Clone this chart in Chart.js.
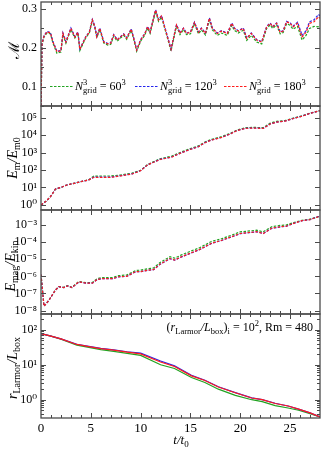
<!DOCTYPE html>
<html>
<head>
<meta charset="utf-8">
<script src="https://cdn.jsdelivr.net/npm/chart.js@4.4.1/dist/chart.umd.min.js"></script>
<style>
  body { margin: 0; background: #fff; }
  #wrap { position: relative; width: 322px; height: 450px; }
  #wrap canvas { position: absolute; left: 0; top: 0; }
</style>
</head>
<body>
<div id="wrap">
  <canvas id="c1" width="322" height="450"></canvas>
  <canvas id="c2" width="322" height="450"></canvas>
  <canvas id="c3" width="322" height="450"></canvas>
  <canvas id="c4" width="322" height="450"></canvas>
</div>
<script>
// grid resolutions of the three runs
const gridSizes = ['60', '120', '180'];
const xTicks = [0, 5, 10, 15, 20, 25];

// Mach number
const machT = [0, 0.1, 0.3, 0.6, 0.95, 1.2, 1.6, 2.0, 2.2, 2.5,
  3.0, 3.4, 3.7, 3.9, 4.5, 4.85, 5.15, 5.4, 5.6, 5.9,
  6.3, 6.7, 7.0, 7.3, 7.65, 8.0, 8.3, 8.6, 9.05, 9.3,
  9.6, 10.0, 10.4, 10.7, 10.95, 11.5, 11.8, 12.1, 12.45, 13.05,
  13.6, 13.95, 14.3, 14.6, 15.0, 15.4, 15.8, 16.1, 16.5, 16.9,
  17.2, 17.7, 18.1, 18.7, 19.15, 19.4, 19.8, 20.3, 20.65, 21.1,
  21.65, 22.15, 22.65, 23.0, 23.25, 23.65, 24.0, 24.3, 24.65, 25.0,
  25.3, 25.75, 26.2, 26.6, 26.95, 27.4, 27.85, 28.0];
const machGreen = [0.04, 0.208, 0.228, 0.238, 0.236, 0.212, 0.186, 0.189, 0.234, 0.212,
  0.247, 0.225, 0.238, 0.193, 0.226, 0.238, 0.27, 0.252, 0.226, 0.247,
  0.212, 0.207, 0.209, 0.23, 0.217, 0.226, 0.232, 0.222, 0.245, 0.222,
  0.191, 0.217, 0.232, 0.251, 0.237, 0.294, 0.268, 0.279, 0.247, 0.192,
  0.256, 0.234, 0.247, 0.234, 0.236, 0.262, 0.236, 0.246, 0.233, 0.272,
  0.246, 0.232, 0.238, 0.232, 0.258, 0.245, 0.238, 0.245, 0.219, 0.232,
  0.215, 0.21, 0.25, 0.259, 0.25, 0.259, 0.236, 0.239, 0.262, 0.258,
  0.248, 0.255, 0.22, 0.232, 0.25, 0.255, 0.254, 0.25];
const machBlue = [0.04, 0.211, 0.231, 0.242, 0.239, 0.216, 0.191, 0.193, 0.238, 0.216,
  0.251, 0.229, 0.241, 0.197, 0.229, 0.241, 0.273, 0.256, 0.229, 0.251,
  0.216, 0.211, 0.213, 0.234, 0.221, 0.229, 0.236, 0.226, 0.249, 0.226,
  0.195, 0.221, 0.236, 0.255, 0.241, 0.298, 0.273, 0.283, 0.251, 0.197,
  0.26, 0.238, 0.251, 0.238, 0.241, 0.266, 0.241, 0.251, 0.238, 0.277,
  0.251, 0.238, 0.244, 0.238, 0.264, 0.251, 0.244, 0.251, 0.225, 0.238,
  0.221, 0.216, 0.255, 0.264, 0.255, 0.264, 0.241, 0.244, 0.268, 0.264,
  0.256, 0.266, 0.232, 0.244, 0.267, 0.272, 0.286, 0.282];
const machRed = [0.04, 0.21, 0.23, 0.241, 0.238, 0.215, 0.19, 0.192, 0.237, 0.215,
  0.25, 0.228, 0.24, 0.196, 0.228, 0.24, 0.272, 0.255, 0.228, 0.25,
  0.215, 0.21, 0.212, 0.233, 0.22, 0.228, 0.235, 0.225, 0.248, 0.225,
  0.194, 0.22, 0.235, 0.254, 0.24, 0.297, 0.272, 0.282, 0.25, 0.196,
  0.259, 0.237, 0.25, 0.237, 0.24, 0.265, 0.24, 0.25, 0.237, 0.276,
  0.25, 0.237, 0.243, 0.237, 0.263, 0.25, 0.243, 0.25, 0.224, 0.237,
  0.22, 0.215, 0.254, 0.263, 0.254, 0.263, 0.24, 0.243, 0.267, 0.263,
  0.254, 0.263, 0.228, 0.24, 0.263, 0.267, 0.28, 0.276];
const machTicks = [0.1, 0.2, 0.3];
const machMinor = [0.05, 0.15, 0.25];

// magnetic energy E_m / E_m0
const emT = [0, 0.5, 0.95, 1.45, 2.0, 2.6, 3.3, 4.1, 4.8, 5.3,
  6.0, 7.0, 8.0, 9.15, 10.0, 10.7, 11.95, 13.1, 13.95, 14.8,
  15.8, 16.45, 17.1, 18.15, 19.0, 19.65, 20.5, 21.3, 22.3, 23.0,
  23.65, 24.5, 25.35, 26.2, 27.0, 27.85, 28.0];
const emGreen = [1.0, 1.6, 2.95, 8, 10, 13.8, 17, 22, 28, 44,
  45, 45, 52, 66, 96, 205, 440, 610, 1000, 1550,
  2400, 4000, 5600, 8200, 12600, 19000, 26500, 27500, 26500, 48000,
  61000, 68000, 94000, 126000, 178000, 236000, 250000];
const emBlue = [1.0, 1.6, 2.95, 8, 10, 13.8, 17, 22, 27, 39,
  39, 39, 47, 60, 92, 197, 405, 550, 900, 1400,
  2170, 3700, 5200, 7500, 11700, 18000, 24300, 25400, 24300, 43000,
  55500, 63500, 90000, 121000, 175000, 236000, 252000];
const emRed = [1.0, 1.6, 2.95, 8, 10, 13.8, 17, 22, 27, 38,
  38, 38, 46, 59, 91, 195, 400, 540, 890, 1380,
  2140, 3630, 5130, 7400, 11500, 17800, 24000, 25100, 24000, 42700,
  55000, 63000, 89000, 120000, 174000, 234000, 250000];
const emTicks = [1, 10, 100, 1e3, 1e4, 1e5];

// E_mag / E_kin
const ratioT = [0, 0.3, 0.8, 1.45, 1.8, 2.3, 2.65, 3.1, 3.8, 4.5,
  5.15, 5.65, 6.15, 7.2, 7.8, 8.6, 9.5, 10.0, 10.7, 11.3,
  11.95, 12.95, 13.4, 14.1, 15.1, 15.95, 17.1, 18.15, 19.15, 20.0,
  20.6, 21.65, 22.3, 23.15, 24.0, 24.6, 25.35, 26.2, 27.0, 27.85, 28.0];
const ratioGreen = [1.26e-6, 1.8e-8, 4e-8, 1.6e-7, 2.5e-7, 2.3e-7, 2.9e-7, 2.3e-7, 5e-7, 4.3e-7,
  4.4e-7, 7.5e-7, 8.5e-7, 8.6e-7, 1.1e-6, 1.2e-6, 2.2e-6, 2.3e-6, 2.8e-6, 3.1e-6,
  6.4e-6, 1.4e-5, 1.15e-5, 1.8e-5, 3.1e-5, 4.8e-5, 1.1e-4, 1.6e-4, 2.6e-4, 4e-4,
  4.3e-4, 5e-4, 4e-4, 8e-4, 9.5e-4, 1e-3, 1.4e-3, 1.9e-3, 2.2e-3, 3.1e-3, 3.3e-3];
const ratioBlue = [1.26e-6, 1.8e-8, 4e-8, 1.6e-7, 2.5e-7, 2.2e-7, 2.8e-7, 2.2e-7, 4.7e-7, 4e-7,
  4e-7, 6.5e-7, 7.3e-7, 7.3e-7, 9.4e-7, 1e-6, 1.85e-6, 1.9e-6, 2.25e-6, 2.45e-6,
  5.1e-6, 1.08e-5, 8.8e-6, 1.38e-5, 2.35e-5, 3.75e-5, 8.4e-5, 1.28e-4, 2.05e-4, 3.15e-4,
  3.45e-4, 4.05e-4, 3.2e-4, 6.4e-4, 7.8e-4, 8.4e-4, 1.25e-3, 1.8e-3, 2.1e-3, 3.15e-3, 3.4e-3];
const ratioRed = [1.26e-6, 1.8e-8, 4e-8, 1.6e-7, 2.5e-7, 2.2e-7, 2.8e-7, 2.2e-7, 4.8e-7, 4e-7,
  4e-7, 6.6e-7, 7.4e-7, 7.4e-7, 9.5e-7, 1e-6, 1.9e-6, 1.9e-6, 2.3e-6, 2.5e-6,
  5.2e-6, 1.1e-5, 8.9e-6, 1.4e-5, 2.4e-5, 3.8e-5, 8.5e-5, 1.3e-4, 2.1e-4, 3.2e-4,
  3.5e-4, 4.1e-4, 3.2e-4, 6.5e-4, 7.9e-4, 8.5e-4, 1.26e-3, 1.8e-3, 2.1e-3, 3.1e-3, 3.3e-3];
const ratioTicks = [1e-8, 1e-7, 1e-6, 1e-5, 1e-4, 1e-3];

// r_Larmor / L_box
const larmorT = [0, 1.0, 2.0, 3.6, 4.8, 6.0, 7.3, 8.65, 10.0, 12.0,
  13.4, 15.1, 16.45, 17.8, 19.5, 21.15, 22.2, 23.5, 24.8, 25.85, 27.0, 28.0];
const larmorGreen = [78, 66, 54, 36.5, 31.5, 27, 24, 21, 18.5, 10,
  7.8, 4.3, 3.1, 2.0, 1.33, 1.0, 0.88, 0.68, 0.58, 0.5, 0.4, 0.32];
const larmorBlue = [78, 66, 55, 38.5, 33.5, 29.5, 26.5, 23.5, 21.5, 12.8,
  9.3, 5.0, 3.6, 2.35, 1.6, 1.13, 1.0, 0.79, 0.66, 0.54, 0.42, 0.32];
const larmorRed = [78, 66, 55, 38, 33, 29, 26, 23, 20.4, 12,
  8.9, 4.8, 3.55, 2.3, 1.58, 1.12, 1.0, 0.78, 0.66, 0.54, 0.42, 0.32];
const larmorTicks = [1, 10, 100];
const larmorMinor = [0.4, 0.5, 0.6, 0.7, 0.8, 0.9, 2, 3, 4, 5, 6, 7, 8, 9,
  20, 30, 40, 50, 60, 70, 80, 90, 200];

const FONT = "'Liberation Serif', 'DejaVu Serif', serif";
const colors = ['#22a322', '#2424ee', '#ff1c1c'];
const FRAME = '#4a4a4a';
const SUP = { '0': '⁰', '1': '¹', '2': '²', '3': '³', '4': '⁴', '5': '⁵', '6': '⁶', '7': '⁷', '8': '⁸', '9': '⁹', '-': '⁻' };

function powLabel(v) {
  const e = String(Math.round(Math.log10(v)));
  return '10' + e.split('').map(c => SUP[c]).join('');
}

// parts: [text, italic, size, dy, noAdvance]
function richText(ctx, parts, x, y, align) {
  let w = 0;
  parts.forEach(p => {
    ctx.font = (p[1] ? 'italic ' : '') + p[2] + 'px ' + FONT;
    p.w = ctx.measureText(p[0]).width;
    if (!p[4]) w += p.w;
  });
  let cx = align === 'center' ? x - w / 2 : align === 'right' ? x - w : x;
  ctx.textAlign = 'left';
  ctx.textBaseline = 'alphabetic';
  parts.forEach(p => {
    ctx.font = (p[1] ? 'italic ' : '') + p[2] + 'px ' + FONT;
    ctx.fillText(p[0], cx, y + p[3]);
    if (!p[4]) cx += p.w;
  });
}

function framePlugin(majorY, minorY) {
  return {
    id: 'frame',
    afterDatasetsDraw(chart) {
      const ctx = chart.ctx, a = chart.chartArea;
      const xs = chart.scales.x, ys = chart.scales.y;
      ctx.save();
      ctx.strokeStyle = FRAME;
      ctx.lineWidth = 1;
      ctx.beginPath();
      for (let t = 1; t < 28; t++) {
        const px = Math.round(xs.getPixelForValue(t)) + 0.5;
        const len = t % 5 === 0 ? 5 : 3;
        ctx.moveTo(px, a.bottom); ctx.lineTo(px, a.bottom - len);
        ctx.moveTo(px, a.top); ctx.lineTo(px, a.top + len);
      }
      majorY.concat(minorY).forEach(v => {
        const py = Math.round(ys.getPixelForValue(v)) + 0.5;
        const len = majorY.includes(v) ? 5 : 3;
        ctx.moveTo(a.left, py); ctx.lineTo(a.left + len, py);
        ctx.moveTo(a.right, py); ctx.lineTo(a.right - len, py);
      });
      ctx.stroke();
      ctx.lineWidth = 1.3;
      ctx.strokeRect(a.left, a.top, a.width, a.height);
      ctx.restore();
    }
  };
}

function titlePlugin(parts, x, y) {
  return {
    id: 'ytitle',
    afterDraw(chart) {
      const ctx = chart.ctx;
      ctx.save();
      ctx.fillStyle = '#000';
      ctx.translate(x, y);
      ctx.rotate(-Math.PI / 2);
      richText(ctx, parts, 0, 0, 'center');
      ctx.restore();
    }
  };
}

const legendPlugin = {
  id: 'gridLegend',
  afterDraw(chart) {
    const ctx = chart.ctx;
    const starts = [50, 135, 224];
    ctx.save();
    gridSizes.forEach((n, i) => {
      const x0 = starts[i];
      ctx.strokeStyle = colors[i];
      ctx.lineWidth = 1.2;
      ctx.setLineDash([2.5, 1.5]);
      ctx.beginPath();
      ctx.moveTo(x0, 86.5); ctx.lineTo(x0 + 24, 86.5);
      ctx.stroke();
      ctx.setLineDash([]);
      ctx.fillStyle = '#000';
      richText(ctx, [['N', true, 12, 0], ['3', false, 8.5, -5, true], ['grid', false, 8.5, 3],
        [' = ' + n, false, 12, 0], ['3', false, 8.5, -5]], x0 + 25, 90, 'left');
    });
    ctx.restore();
  }
};

const notePlugin = {
  id: 'note',
  afterDraw(chart) {
    const ctx = chart.ctx;
    ctx.save();
    ctx.fillStyle = '#000';
    richText(ctx, [['(', false, 12, 0], ['r', true, 12, 0], ['Larmor', false, 8.5, 3], ['/', true, 12, 0],
      ['L', true, 12, 0], ['box', false, 8.5, 3], [')', false, 12, 0], ['i', false, 8.5, 3],
      [' = 10', false, 12, 0], ['2', false, 8.5, -5], [', Rm = 480', false, 12, 0]], 313, 331, 'right');
    richText(ctx, [['t', true, 13, 0], ['/', true, 13, 0], ['t', true, 13, 0], ['0', false, 9, 3]], 181, 444, 'center');
    ctx.restore();
  }
};

function makeSets(t, g, b, r, dashed) {
  return [g, b, r].map((vals, i) => ({
    label: gridSizes[i],
    data: t.map((x, k) => ({ x: x, y: vals[k] })),
    borderColor: colors[i],
    borderWidth: 1.2,
    borderDash: dashed ? [2.5, 1.5] : [],
    pointRadius: 0,
    tension: 0,
    order: 3 - i
  }));
}

function noPad(s) {
  s.paddingTop = 0; s.paddingBottom = 0; s.paddingLeft = 0; s.paddingRight = 0;
}

function makePanel(id, p) {
  const bottomAxis = !!p.showX;
  new Chart(document.getElementById(id), {
    type: 'line',
    data: { datasets: makeSets(p.t, p.g, p.b, p.r, p.dashed) },
    options: {
      responsive: false,
      animation: false,
      events: [],
      layout: { padding: { top: p.top, bottom: bottomAxis ? 450 - p.bottom - 20 : 450 - p.bottom, left: 0, right: 2 } },
      plugins: { legend: { display: false }, tooltip: { enabled: false } },
      scales: {
        x: {
          type: 'linear', min: 0, max: 28,
          display: bottomAxis,
          afterFit: s => { if (bottomAxis) s.height = 20; noPad(s); },
          afterBuildTicks: s => { s.ticks = xTicks.map(v => ({ value: v })); },
          grid: { display: false, drawTicks: false },
          border: { display: false },
          ticks: { color: '#000', font: { family: FONT, size: 13 }, padding: 3, maxRotation: 0, autoSkip: false }
        },
        y: {
          type: p.type, min: p.min, max: p.max,
          afterFit: s => { s.width = 41; noPad(s); },
          afterBuildTicks: s => { s.ticks = p.ticks.map(v => ({ value: v })); },
          grid: { display: false, drawTicks: false },
          border: { display: false },
          ticks: { color: '#000', font: { family: FONT, size: 12 }, padding: 4, autoSkip: false, callback: p.fmt }
        }
      }
    },
    plugins: [framePlugin(p.ticks, p.minor || []), titlePlugin(p.title, p.titleX, p.titleY)].concat(p.extra || [])
  });
}

makePanel('c1', {
  t: machT, g: machGreen, b: machBlue, r: machRed, dashed: true,
  top: 2, bottom: 106, type: 'linear', min: 0.05, max: 0.318,
  ticks: machTicks, minor: machMinor, fmt: v => v.toFixed(1),
  title: [['ℳ', false, 15, 0]], titleX: 19, titleY: 50,
  extra: [legendPlugin]
});
makePanel('c2', {
  t: emT, g: emGreen, b: emBlue, r: emRed, dashed: true,
  top: 106, bottom: 210, type: 'logarithmic', min: 0.51, max: 4.6e5,
  ticks: emTicks, fmt: powLabel,
  title: [['E', true, 14, 0], ['m', false, 10, 3], ['/', true, 14, 0], ['E', true, 14, 0], ['m0', false, 10, 3]],
  titleX: 17, titleY: 158
});
makePanel('c3', {
  t: ratioT, g: ratioGreen, b: ratioBlue, r: ratioRed, dashed: true,
  top: 210, bottom: 314, type: 'logarithmic', min: 6.3e-9, max: 7.6e-3,
  ticks: ratioTicks, fmt: powLabel,
  title: [['E', true, 14, 0], ['mag', false, 10, 3], ['/', true, 14, 0], ['E', true, 14, 0], ['kin', false, 10, 3]],
  titleX: 15, titleY: 266
});
makePanel('c4', {
  t: larmorT, g: larmorGreen, b: larmorBlue, r: larmorRed, dashed: false,
  top: 314, bottom: 418, type: 'logarithmic', min: 0.33, max: 282,
  ticks: larmorTicks, minor: larmorMinor, fmt: powLabel, showX: true,
  title: [['r', true, 14, 0], ['Larmor', false, 10, 3], ['/', true, 14, 0], ['L', true, 14, 0], ['box', false, 10, 3]],
  titleX: 17, titleY: 368,
  extra: [notePlugin]
});
</script>
</body>
</html>
